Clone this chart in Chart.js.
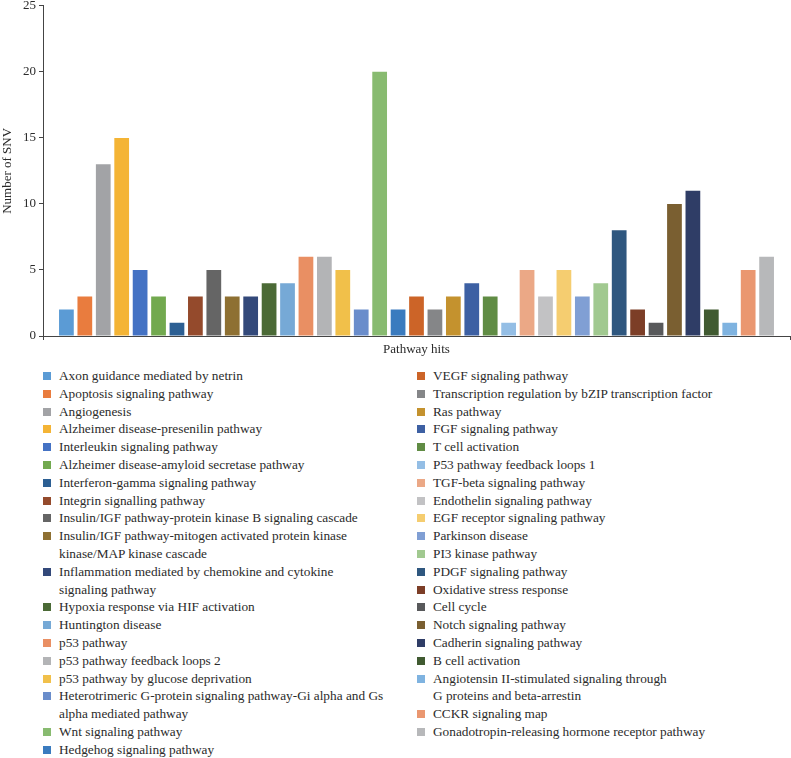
<!DOCTYPE html>
<html>
<head>
<meta charset="utf-8">
<script src="https://cdn.jsdelivr.net/npm/chart.js@4/dist/chart.umd.min.js"></script>
<style>
  body { margin: 0; background: #fff; width: 791px; height: 758px; overflow: hidden; position: relative; font-family: "Liberation Serif", "DejaVu Serif", serif; }
  #chartBox { position: absolute; left: 0; top: -5px; width: 791px; height: 367px; }
  .legendCol { position: absolute; top: 367px; color: #2b2b2b; font-size: 13.3px; line-height: 17.8px; }
  .legendItem { position: relative; padding-left: 16px; }
  .legendItem span.sw { position: absolute; left: 0; top: 5px; width: 8px; height: 8px; }
</style>
</head>
<body>
<div id="chartBox"><canvas id="snvChart"></canvas></div>
<div class="legendCol" id="legCol1" style="left:43px; width:342px;"></div>
<div class="legendCol" id="legCol2" style="left:417px; width:306px;"></div>
<script>
var pathways = [
  "Axon guidance mediated by netrin",
  "Apoptosis signaling pathway",
  "Angiogenesis",
  "Alzheimer disease-presenilin pathway",
  "Interleukin signaling pathway",
  "Alzheimer disease-amyloid secretase pathway",
  "Interferon-gamma signaling pathway",
  "Integrin signalling pathway",
  "Insulin/IGF pathway-protein kinase B signaling cascade",
  "Insulin/IGF pathway-mitogen activated protein kinase kinase/MAP kinase cascade",
  "Inflammation mediated by chemokine and cytokine signaling pathway",
  "Hypoxia response via HIF activation",
  "Huntington disease",
  "p53 pathway",
  "p53 pathway feedback loops 2",
  "p53 pathway by glucose deprivation",
  "Heterotrimeric G-protein signaling pathway-Gi alpha and Gs alpha mediated pathway",
  "Wnt signaling pathway",
  "Hedgehog signaling pathway",
  "VEGF signaling pathway",
  "Transcription regulation by bZIP transcription factor",
  "Ras pathway",
  "FGF signaling pathway",
  "T cell activation",
  "P53 pathway feedback loops 1",
  "TGF-beta signaling pathway",
  "Endothelin signaling pathway",
  "EGF receptor signaling pathway",
  "Parkinson disease",
  "PI3 kinase pathway",
  "PDGF signaling pathway",
  "Oxidative stress response",
  "Cell cycle",
  "Notch signaling pathway",
  "Cadherin signaling pathway",
  "B cell activation",
  "Angiotensin II-stimulated signaling through G\u00a0proteins and beta-arrestin",
  "CCKR signaling map",
  "Gonadotropin-releasing hormone receptor pathway"
];

var snvCounts = [2, 3, 13, 15, 5, 3, 1, 3, 5, 3, 3, 4, 4, 6, 6, 5, 2, 20, 2,
                 3, 2, 3, 4, 3, 1, 5, 3, 5, 3, 4, 8, 2, 1, 10, 11, 2, 1, 5, 6];

var barColors = [
  "#5b9bd5", "#e97c3e", "#a2a3a6", "#f4b435", "#4472c4", "#72a94f", "#2c5f93",
  "#944a2c", "#656565", "#8e7032", "#33497a", "#4b6a36", "#76a9d6", "#e98f63",
  "#b3b4b6", "#f1c04a", "#6a8dcb", "#88bb70", "#3a7bbf",
  "#cc6428", "#858688", "#c4922e", "#3d60a3", "#608c44", "#94bee5", "#eba886",
  "#c2c2c4", "#f5cd70", "#809fd4", "#a1c990", "#2f577f", "#7c3e27", "#58595b",
  "#7a5f31", "#2f3d66", "#405a31", "#7fb3e0", "#ea9770", "#b7b8ba"
];

var categories = ["Pathway hits"];
var yTicks = [0, 5, 10, 15, 20, 25];
var col1Count = 19;

var datasets = pathways.map(function (name, i) {
  return {
    label: name,
    data: [snvCounts[i]],
    backgroundColor: barColors[i],
    borderWidth: 0,
    categoryPercentage: 0.962,
    barPercentage: 0.8
  };
});

var axisColor = '#444';
var tickFont = { family: '"Liberation Serif", serif', size: 13 };

new Chart(document.getElementById('snvChart'), {
  type: 'bar',
  data: { labels: categories, datasets: datasets },
  options: {
    responsive: true,
    maintainAspectRatio: false,
    animation: false,
    layout: { padding: { top: 0, right: 1, left: 0, bottom: 0 } },
    plugins: { legend: { display: false }, tooltip: { enabled: false } },
    scales: {
      x: {
        offset: true,
        grid: { drawOnChartArea: false, drawTicks: true, tickLength: 4, color: axisColor, offset: true },
        border: { display: true, color: axisColor, width: 1 },
        ticks: { color: '#2b2b2b', font: tickFont, padding: 2 },
        afterFit: function (s) { s.height = 26; }
      },
      y: {
        min: 0,
        max: 25,
        afterBuildTicks: function (s) { s.ticks = yTicks.map(function (v) { return { value: v }; }); },
        grid: { drawOnChartArea: false, drawTicks: true, tickLength: 4, color: axisColor },
        border: { display: true, color: axisColor, width: 1 },
        ticks: { color: '#2b2b2b', font: tickFont, padding: 3 },
        title: { display: true, text: 'Number of SNV', color: '#2b2b2b', font: tickFont, padding: 0 },
        afterFit: function (s) { s.width = 43; }
      }
    }
  }
});

function buildLegend(el, from, to) {
  for (var i = from; i < to; i++) {
    var item = document.createElement('div');
    item.className = 'legendItem';
    var sw = document.createElement('span');
    sw.className = 'sw';
    sw.style.background = barColors[i];
    item.appendChild(sw);
    item.appendChild(document.createTextNode(pathways[i]));
    el.appendChild(item);
  }
}
buildLegend(document.getElementById('legCol1'), 0, col1Count);
buildLegend(document.getElementById('legCol2'), col1Count, pathways.length);
</script>
</body>
</html>
